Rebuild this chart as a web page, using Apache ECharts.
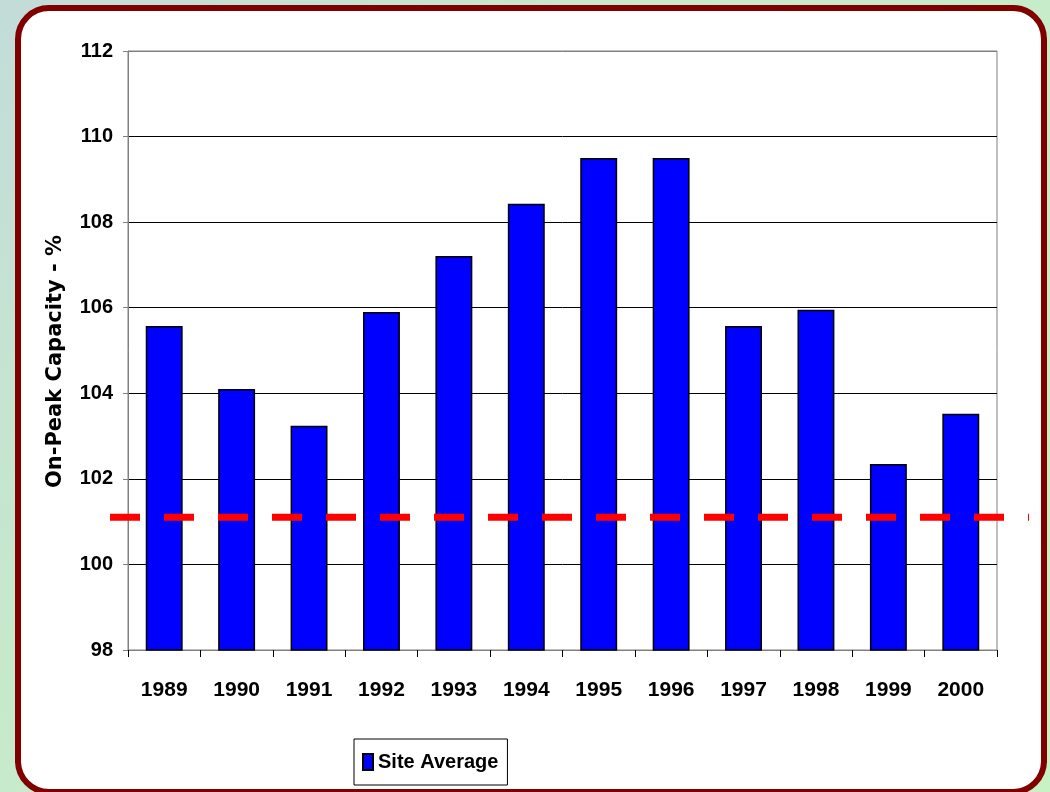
<!DOCTYPE html>
<html>
<head>
<meta charset="utf-8">
<script src="https://cdn.jsdelivr.net/npm/echarts@6/dist/echarts.min.js"></script>
<style>
  html, body { margin: 0; padding: 0; width: 1050px; height: 792px; overflow: hidden; }
  body { background: linear-gradient(135deg, #c3dcd9 0%, #c6e9cc 35%, #c8f2c4 100%); position: relative; }
  #frame {
    position: absolute; left: 15px; top: 5px; width: 1032px; height: 790px;
    box-sizing: border-box; border: 6px solid #800000; border-radius: 34px; background: #ffffff;
  }
  #chart { position: absolute; left: 0; top: 0; width: 1050px; height: 792px; }
</style>
</head>
<body>
<div id="frame"></div>
<div id="chart"></div>
<script>
// Yearly on-peak capacity for the site, in percent
const years = ['1989', '1990', '1991', '1992', '1993', '1994', '1995', '1996', '1997', '1998', '1999', '2000'];
const siteAverage = [105.57, 104.10, 103.24, 105.90, 107.21, 108.43, 109.50, 109.50, 105.57, 105.95, 102.35, 103.52];
// Horizontal reference level drawn as a dashed line across the chart
const baselineX = [0, 1];
const baselineY = [101.1, 101.1];
const yTicks = { min: 98, max: 112, step: 2 };

const sans = '"Liberation Sans", Arial, sans-serif';
const gray = '#808080';

const chart = echarts.init(document.getElementById('chart'), null, { renderer: 'canvas' });

chart.setOption({
  backgroundColor: 'transparent',
  animation: false,
  legend: {
    data: [{ name: 'Site Average', icon: 'rect' }],
    left: 354, top: 739,
    padding: [13, 9, 13, 8],
    itemWidth: 10, itemHeight: 16, itemGap: 0,
    borderColor: '#000', borderWidth: 1, backgroundColor: '#fff',
    textStyle: { fontFamily: sans, fontWeight: 'bold', fontSize: 20, color: '#000', padding: [0, 0, 0, 0] }
  },
  grid: [
    { left: 128, top: 51, right: 53, bottom: 142, show: true, borderColor: gray, borderWidth: 1, backgroundColor: 'transparent' },
    { left: 110, top: 51, right: 21, bottom: 142 }
  ],
  xAxis: [
    {
      type: 'category', gridIndex: 0, data: years,
      axisLine: { lineStyle: { color: gray, width: 1 } },
      axisTick: { show: true, interval: 0, length: 7, alignWithLabel: false, lineStyle: { color: '#000' } },
      axisLabel: { interval: 0, margin: 30, color: '#000', fontFamily: sans, fontWeight: 'bold', fontSize: 21 }
    },
    { type: 'value', gridIndex: 1, min: 0, max: 1, show: false }
  ],
  yAxis: [
    {
      type: 'value', gridIndex: 0, min: yTicks.min, max: yTicks.max, interval: yTicks.step,
      name: 'On-Peak Capacity - %', nameLocation: 'middle', nameGap: 62, nameRotate: 90,
      nameTextStyle: { fontFamily: '"DejaVu Sans", sans-serif', fontWeight: 'bold', fontSize: 21, color: '#000', padding: [0, 22, 0, 0] },
      axisLine: { show: true, lineStyle: { color: gray, width: 1 } },
      axisTick: { show: true, length: 5, lineStyle: { color: gray } },
      axisLabel: { margin: 15, color: '#000', fontFamily: sans, fontWeight: 'bold', fontSize: 20 },
      splitLine: { show: true, lineStyle: { color: [gray, '#000', '#000', '#000', '#000', '#000', '#000', gray], width: 1 } }
    },
    { type: 'value', gridIndex: 1, min: yTicks.min, max: yTicks.max, show: false }
  ],
  series: [
    {
      name: 'Site Average', type: 'bar', xAxisIndex: 0, yAxisIndex: 0,
      data: siteAverage, barWidth: '51%',
      itemStyle: { color: '#0000ff', borderColor: '#000', borderWidth: 1.5 },
      z: 2
    },
    {
      name: 'Baseline', type: 'line', xAxisIndex: 1, yAxisIndex: 1,
      data: baselineX.map((x, i) => [x, baselineY[i]]),
      symbol: 'none', silent: true,
      lineStyle: { color: '#ff0000', width: 7, type: [30, 24], cap: 'butt' },
      z: 5
    }
  ]
});
</script>
</body>
</html>
